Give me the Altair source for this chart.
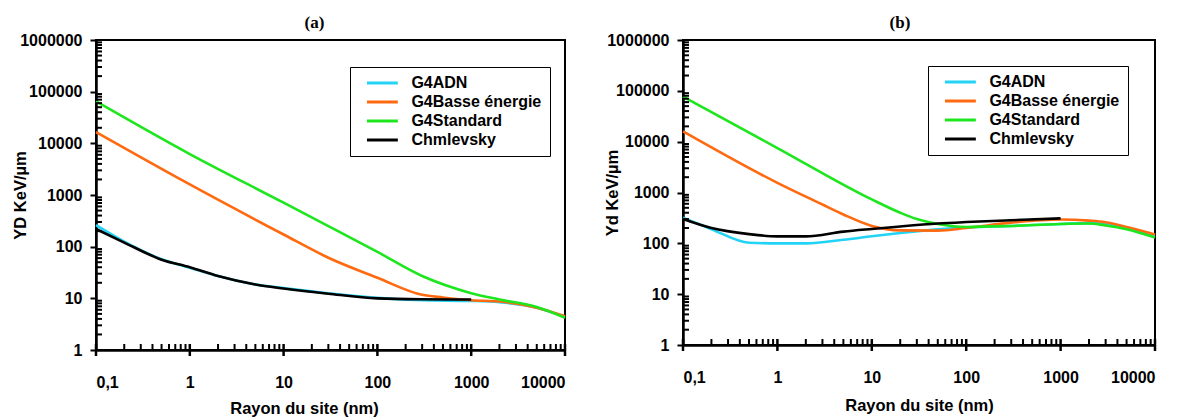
import altair as alt
import pandas as pd

SANS = "Liberation Sans, Arial, sans-serif"
SERIF = "Liberation Serif, Times New Roman, serif"

series_names = ["G4ADN", "G4Basse énergie", "G4Standard", "Chmlevsky"]
series_colors = ["#22D3F5", "#FF6A10", "#1EE61E", "#000000"]

# ---- panel (a) ----
a_adn_r = [0.1, 0.2, 0.5, 1, 2, 5, 10, 30, 100, 300, 1000, 2000, 5000, 10000]
a_adn_v = [260, 125, 57, 39, 27, 18.5, 15.8, 12.5, 10.2, 9.2, 8.9, 8.4, 6.6, 4.4]
a_basse_r = [0.1, 1, 10, 30, 100, 300, 500, 1000, 2000, 5000, 10000]
a_basse_v = [16500, 1600, 172, 61, 25, 11.7, 10.4, 9.2, 8.7, 6.6, 4.5]
a_std_r = [0.1, 1, 10, 30, 100, 300, 1000, 2000, 5000, 10000]
a_std_v = [65000, 6200, 710, 250, 79, 27, 12.6, 9.5, 6.8, 4.2]
a_chm_r = [0.1, 0.2, 0.5, 1, 2, 5, 10, 30, 100, 300, 1000]
a_chm_v = [220, 120, 56, 40, 27, 18.5, 15.5, 12.3, 10, 9.6, 9.5]

# ---- panel (b) ----
b_adn_r = [0.1, 0.2, 0.5, 1, 2, 5, 10, 20, 50, 100, 300, 1000, 2000, 5000, 10000]
b_adn_v = [320, 190, 103, 100, 100, 118, 138, 160, 188, 205, 220, 240, 250, 200, 140]
b_basse_r = [0.1, 1, 3, 5, 10, 20, 50, 100, 300, 1000, 2000, 3000, 5000, 10000]
b_basse_v = [16000, 1550, 580, 370, 220, 180, 178, 200, 255, 295, 280, 260, 210, 150]
b_std_r = [0.1, 1, 10, 20, 30, 50, 100, 300, 1000, 2000, 3000, 5000, 10000]
b_std_v = [77000, 7500, 730, 400, 300, 240, 210, 220, 240, 245, 225, 190, 130]
b_chm_r = [0.1, 0.2, 0.5, 1, 2, 5, 10, 20, 50, 100, 300, 1000]
b_chm_v = [300, 200, 152, 137, 137, 170, 192, 215, 245, 262, 285, 310]

x_major = [0.1, 1, 10, 100, 1000, 10000]
x_minor = [d * k for d in [0.1, 1, 10, 100, 1000] for k in range(2, 10)]
y_major = [1, 10, 100, 1000, 10000, 100000, 1000000]
y_minor = [d * k for d in [1, 10, 100, 1000, 10000, 100000] for k in range(2, 10)]


def make_df(groups):
    rows = []
    for name, rs, vs in groups:
        for r, v in zip(rs, vs):
            rows.append({"s": name, "r": r, "v": v})
    return pd.DataFrame(rows)


df_a = make_df([
    ("G4ADN", a_adn_r, a_adn_v),
    ("G4Basse énergie", a_basse_r, a_basse_v),
    ("G4Standard", a_std_r, a_std_v),
    ("Chmlevsky", a_chm_r, a_chm_v),
])
df_b = make_df([
    ("G4ADN", b_adn_r, b_adn_v),
    ("G4Basse énergie", b_basse_r, b_basse_v),
    ("G4Standard", b_std_r, b_std_v),
    ("Chmlevsky", b_chm_r, b_chm_v),
])


def panel(df, title, title_dx, ytitle, W, H, xtitle_x, xtitle_y, ytitle_x, lx, ly):
    xs = alt.Scale(type="log", domain=[0.1, 10000])
    ys = alt.Scale(type="log", domain=[1, 1000000])
    lines = alt.Chart(df).mark_line(strokeWidth=2.6, interpolate="monotone").encode(
        x=alt.X("r:Q", scale=xs, axis=alt.Axis(
            values=x_major, ticks=False, labelPadding=24,
            labelExpr="datum.value < 0.5 ? '0,1' : format(datum.value, 'd')",
            title="Rayon du site (nm)", titleX=xtitle_x, titleY=xtitle_y,
            titleBaseline="middle")),
        y=alt.Y("v:Q", scale=ys, axis=alt.Axis(
            values=y_major, format="d", tickSize=6, tickWidth=2, labelPadding=8,
            title=ytitle, titleX=ytitle_x, titleY=H / 2, titleAngle=270,
            titleBaseline="middle")),
        color=alt.Color("s:N", sort=series_names,
                        scale=alt.Scale(domain=series_names, range=series_colors),
                        legend=alt.Legend(title=None, orient="none", legendX=lx, legendY=ly)),
    )
    xt_minor = alt.Chart(pd.DataFrame({"r": x_minor})).mark_rule(
        color="black", strokeWidth=2).encode(
        x=alt.X("r:Q", scale=xs), y=alt.value(H - 6), y2=alt.value(H))
    xt_major = alt.Chart(pd.DataFrame({"r": x_major})).mark_rule(
        color="black", strokeWidth=2.5).encode(
        x=alt.X("r:Q", scale=xs), y=alt.value(H - 6), y2=alt.value(H + 6))
    yt_minor = alt.Chart(pd.DataFrame({"v": y_minor})).mark_rule(
        color="black", strokeWidth=2).encode(
        y=alt.Y("v:Q", scale=ys), x=alt.value(0), x2=alt.value(6))
    return alt.layer(lines, xt_minor, xt_major, yt_minor).properties(
        width=W, height=H,
        title=alt.TitleParams(title, font=SERIF, fontSize=17, fontWeight="bold",
                              color="black", offset=0, dx=title_dx),
    )


left = panel(df_a, "(a)", -16, "YD KeV/µm", 469, 310, 208, 58, -76, 254, 27)
right = panel(df_b, "(b)", -19, "Yd KeV/µm", 472, 305, 236, 60, -71, 245, 26)

chart = alt.hconcat(left, right, spacing=31).resolve_scale(
    color="independent", x="independent", y="independent"
).configure(
    padding={"left": 3, "top": 5, "right": 0, "bottom": 0},
).configure_view(
    stroke="black", strokeWidth=2,
).configure_axis(
    domainColor="black", domainWidth=2.5, grid=False,
    tickColor="black",
    labelFont=SANS, labelFontSize=16, labelFontWeight="bold", labelColor="black",
    titleFont=SANS, titleFontSize=16.5, titleFontWeight="bold", titleColor="black",
).configure_legend(
    labelFont=SANS, labelFontSize=16, labelFontWeight="bold", labelColor="black",
    symbolType="M-3,0H3", symbolSize=106, symbolStrokeWidth=3,
    symbolOffset=16.4, labelOffset=21, padding=8, rowPadding=3,
    strokeColor="black", fillColor="white",
)

chart.save("out.html", embed_options={"renderer": "svg", "actions": False})
